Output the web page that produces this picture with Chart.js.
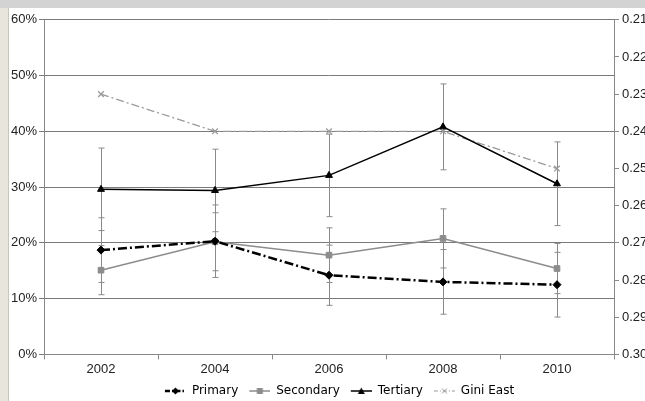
<!DOCTYPE html>
<html>
<head>
<meta charset="utf-8">
<script src="https://cdn.jsdelivr.net/npm/chart.js@4.4.1/dist/chart.umd.min.js"></script>
<style>
  html, body { margin: 0; padding: 0; width: 645px; height: 401px; overflow: hidden; background: #fff; }
  #topband { position: absolute; left: 0; top: 0; width: 645px; height: 8px; background: #d3d3d3; }
  #leftband { position: absolute; left: 0; top: 8px; width: 8px; height: 393px; background: #e7e5dc; border-right: 1px solid #c9c7bd; }
  #wrap { position: absolute; left: 9px; top: 9px; width: 656px; height: 398px; }
</style>
</head>
<body>
<div id="topband"></div>
<div id="leftband"></div>
<div id="wrap"><canvas id="chart"></canvas></div>
<script>
// data
const years = ['2002', '2004', '2006', '2008', '2010'];
const primary = [18.7, 20.3, 14.2, 13.0, 12.5];
const secondary = [15.1, 20.2, 17.8, 20.8, 15.4];
const tertiary = [29.6, 29.4, 32.1, 40.8, 30.6];
const giniEast = [0.23, 0.24, 0.24, 0.24, 0.25];
// error bar half-widths (percentage points)
const primaryErr = [5.8, 6.5, 5.4, 5.8, 5.8];
const secondaryErr = [4.4, 5.2, 4.9, 5.3, 4.5];
const tertiaryErr = [7.4, 7.4, 7.4, 7.7, 7.5];

const LEFT_W = 35, RIGHT_W = 51;

// legend sample: line + marker, drawn at the right of a 26px box
function legendIcon(color, dash, width, style) {
  const c = document.createElement('canvas');
  c.width = 26; c.height = 10;
  const g = c.getContext('2d');
  g.strokeStyle = color; g.fillStyle = color; g.lineWidth = width;
  g.setLineDash(dash);
  g.beginPath(); g.moveTo(5, 5); g.lineTo(26, 5); g.stroke();
  g.setLineDash([]);
  g.lineWidth = 1;
  const cx = 15.5;
  if (style === 'diamond') {
    g.beginPath(); g.moveTo(cx, 1.5); g.lineTo(cx + 3.5, 5); g.lineTo(cx, 8.5); g.lineTo(cx - 3.5, 5); g.closePath(); g.fill();
  } else if (style === 'square') {
    g.fillRect(cx - 3, 2, 6, 6);
  } else if (style === 'triangle') {
    g.beginPath(); g.moveTo(cx, 1.5); g.lineTo(cx + 3.5, 8); g.lineTo(cx - 3.5, 8); g.closePath(); g.fill();
  } else {
    g.beginPath(); g.moveTo(cx - 2.5, 2.5); g.lineTo(cx + 2.5, 7.5); g.moveTo(cx + 2.5, 2.5); g.lineTo(cx - 2.5, 7.5); g.stroke();
  }
  return c;
}

const errorBars = {
  id: 'errorBars',
  beforeDatasetsDraw(chart) {
    const ctx = chart.ctx;
    const x = chart.scales.x, y = chart.scales.y;
    ctx.save();
    ctx.strokeStyle = '#8a8a8a';
    ctx.lineWidth = 1;
    chart.data.datasets.forEach((ds) => {
      if (!ds.err) return;
      ds.data.forEach((v, i) => {
        const px = Math.round(x.getPixelForValue(i)) + 0.5;
        const top = y.getPixelForValue(v + ds.err[i]);
        const bot = y.getPixelForValue(v - ds.err[i]);
        ctx.beginPath();
        ctx.moveTo(px, top); ctx.lineTo(px, bot);
        ctx.moveTo(px - 3, top); ctx.lineTo(px + 3, top);
        ctx.moveTo(px - 3, bot); ctx.lineTo(px + 3, bot);
        ctx.stroke();
      });
    });
    ctx.restore();
  }
};

const tickFont = { family: 'Liberation Sans, Arial, sans-serif', size: 13 };

new Chart(document.getElementById('chart'), {
  type: 'line',
  data: {
    labels: years,
    datasets: [
      {
        label: 'Primary', data: primary, err: primaryErr, yAxisID: 'y',
        borderColor: '#000', backgroundColor: '#000', borderWidth: 2.5, borderDash: [9, 3, 2, 3],
        pointStyle: 'rectRot', pointRadius: 4, pointBorderWidth: 1,
        icon: legendIcon('#000', [5, 2, 1.5, 2], 2.5, 'diamond')
      },
      {
        label: 'Secondary', data: secondary, err: secondaryErr, yAxisID: 'y',
        borderColor: '#8c8c8c', backgroundColor: '#8c8c8c', borderWidth: 1.5,
        pointStyle: 'rect', pointRadius: 4, pointBorderWidth: 1,
        icon: legendIcon('#8c8c8c', [], 1.5, 'square')
      },
      {
        label: 'Tertiary', data: tertiary, err: tertiaryErr, yAxisID: 'y',
        borderColor: '#000', backgroundColor: '#000', borderWidth: 1.5,
        pointStyle: 'triangle', pointRadius: 4, pointBorderWidth: 1,
        icon: legendIcon('#000', [], 1.5, 'triangle')
      },
      {
        label: 'Gini East', data: giniEast, yAxisID: 'y2',
        borderColor: '#9a9a9a', backgroundColor: '#9a9a9a', borderWidth: 1.3, borderDash: [8, 3, 2, 3],
        pointStyle: 'crossRot', pointRadius: 4, pointBorderWidth: 1.3,
        icon: legendIcon('#9a9a9a', [4, 2, 1, 2], 1.2, 'cross')
      }
    ]
  },
  options: {
    responsive: true,
    maintainAspectRatio: false,
    animation: false,
    layout: { padding: { top: 10, bottom: 0 } },
    scales: {
      x: {
        offset: true,
        grid: { display: true, drawOnChartArea: false, drawTicks: true, tickLength: 5, offset: true, color: '#888' },
        border: { color: '#888' },
        ticks: { color: '#222', font: tickFont, padding: 2 }
      },
      y: {
        position: 'left', min: 0, max: 60,
        grid: { color: '#7a7a7a', tickLength: 5 },
        border: { color: '#888' },
        ticks: { stepSize: 10, color: '#222', font: tickFont, padding: 2, callback: (v) => v + '%' },
        afterFit(s) { s.width = LEFT_W; }
      },
      y2: {
        position: 'right', reverse: true, min: 0.21, max: 0.30,
        grid: { drawOnChartArea: false, tickLength: 5, color: '#888' },
        border: { color: '#888' },
        ticks: { stepSize: 0.01, color: '#222', font: tickFont, padding: 3, callback: (v) => Number(v).toFixed(2) },
        afterFit(s) { s.width = RIGHT_W; }
      }
    },
    plugins: {
      legend: {
        position: 'bottom',
        labels: {
          usePointStyle: true,
          pointStyleWidth: 26,
          boxHeight: 10,
          padding: 6,
          color: '#222',
          font: { family: 'DejaVu Sans, sans-serif', size: 12 },
          generateLabels(c) {
            return c.data.datasets.map((ds, i) => ({
              text: ds.label, pointStyle: ds.icon, datasetIndex: i,
              fillStyle: ds.borderColor, strokeStyle: ds.borderColor, lineWidth: 0, hidden: false
            }));
          }
        }
      },
      tooltip: { enabled: false }
    }
  },
  plugins: [errorBars]
});
</script>
</body>
</html>
